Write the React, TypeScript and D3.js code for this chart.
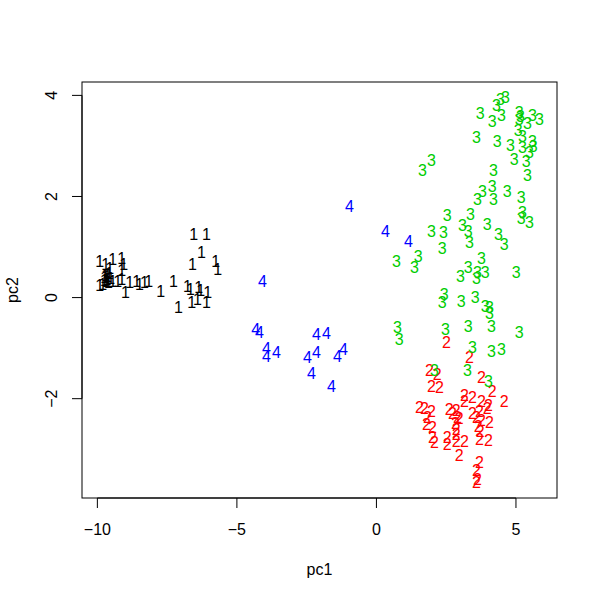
import React, { useEffect } from "react";
import * as d3 from "d3";

type P = [number, number];

const class1: P[] = [
  [-9.92, 0.71], [-9.7, 0.65], [-9.45, 0.75], [-9.13, 0.77], [-9.06, 0.65], [-9.56, 0.59],
  [-9.13, 0.55], [-9.74, 0.4], [-9.63, 0.42], [-9.67, 0.32], [-9.81, 0.26], [-9.92, 0.24],
  [-9.6, 0.3], [-9.45, 0.32], [-9.27, 0.32], [-9.13, 0.36], [-9.7, 0.45], [-9.58, 0.48],
  [-9.66, 0.36], [-9.52, 0.38], [-9.75, 0.34], [-8.99, 0.1], [-8.84, 0.3], [-8.59, 0.32],
  [-8.49, 0.26], [-8.31, 0.3], [-8.16, 0.32], [-7.73, 0.12], [-7.27, 0.32], [-7.09, -0.2],
  [-6.77, 0.22], [-6.66, 0.16], [-6.37, 0.2], [-6.3, 0.14], [-6.62, -0.1], [-6.41, -0.04],
  [-6.05, 0.1], [-6.09, -0.1], [-6.55, 1.25], [-6.09, 1.25], [-6.27, 0.89], [-6.59, 0.65],
  [-5.76, 0.71], [-5.69, 0.57],
];

const class2: P[] = [
  [3.33, -1.19], [1.9, -1.43], [2.18, -1.52], [1.97, -1.76], [2.26, -1.78], [3.76, -1.58],
  [4.15, -1.86], [4.58, -2.06], [3.15, -1.94], [3.44, -1.98], [3.15, -2.06], [3.76, -2.06],
  [4.01, -2.12], [3.97, -2.18], [1.54, -2.16], [1.72, -2.18], [1.97, -2.24], [1.83, -2.36],
  [1.79, -2.51], [2.01, -2.57], [2.61, -2.2], [2.72, -2.28], [2.86, -2.22], [2.9, -2.36],
  [2.97, -2.38], [2.83, -2.48], [2.86, -2.61], [2.86, -2.71], [3.44, -2.28], [3.69, -2.24],
  [3.58, -2.36], [3.76, -2.42], [4.05, -2.46], [3.65, -2.55], [3.72, -2.65], [2.01, -2.77],
  [2.08, -2.87], [2.54, -2.77], [2.54, -2.91], [2.86, -2.85], [3.15, -2.85], [3.69, -2.81],
  [4.01, -2.83], [2.97, -3.11], [3.69, -3.25], [3.58, -3.41], [3.62, -3.6], [3.58, -3.66],
  [2.51, -0.89],
];

const class3: P[] = [
  [4.62, 3.96], [4.44, 3.92], [4.3, 3.8], [4.48, 3.6], [4.15, 3.49], [3.72, 3.64],
  [5.12, 3.66], [5.16, 3.58], [5.12, 3.52], [5.59, 3.6], [5.84, 3.52], [5.41, 3.45],
  [5.08, 3.31], [5.23, 3.19], [3.58, 3.17], [4.33, 3.09], [4.8, 3.01], [5.59, 3.09],
  [5.62, 2.99], [5.23, 2.97], [5.48, 2.87], [4.94, 2.73], [5.37, 2.69], [1.65, 2.51],
  [1.97, 2.71], [4.19, 2.51], [5.41, 2.42], [4.15, 2.2], [3.8, 2.1], [4.69, 2.1],
  [5.19, 1.98], [3.62, 1.94], [4.19, 1.94], [2.54, 1.62], [3.37, 1.64], [5.23, 1.68],
  [5.19, 1.56], [5.48, 1.49], [1.97, 1.31], [2.4, 1.29], [3.08, 1.43], [3.29, 1.31],
  [3.97, 1.45], [4.37, 1.25], [4.58, 1.05], [3.33, 1.09], [2.36, 0.97], [0.72, 0.71],
  [1.5, 0.81], [1.36, 0.61], [3.01, 0.42], [3.29, 0.61], [3.76, 0.77], [3.62, 0.51],
  [3.9, 0.51], [3.58, 0.38], [5.01, 0.5], [2.43, 0.06], [2.36, -0.1], [3.04, -0.08],
  [3.54, 0.0], [3.9, -0.18], [4.05, -0.2], [4.05, -0.3], [0.75, -0.59], [0.82, -0.83],
  [2.47, -0.63], [3.29, -0.57], [4.12, -0.57], [5.12, -0.69], [3.44, -0.99], [4.12, -1.07],
  [4.48, -1.03], [2.08, -1.43], [3.26, -1.43], [4.01, -1.66],
];

const class4: P[] = [
  [-0.97, 1.8], [0.32, 1.31], [1.15, 1.11], [-4.08, 0.32], [-4.33, -0.63], [-4.19, -0.69],
  [-2.15, -0.73], [-1.79, -0.71], [-3.94, -1.01], [-3.94, -1.17], [-3.58, -1.09],
  [-2.15, -1.09], [-2.47, -1.19], [-1.18, -1.03], [-1.4, -1.17], [-2.33, -1.49], [-1.61, -1.76],
];

const groups: { label: string; color: string; pts: P[] }[] = [
  { label: "1", color: "#000000", pts: class1 },
  { label: "2", color: "#FF0000", pts: class2 },
  { label: "3", color: "#00CD00", pts: class3 },
  { label: "4", color: "#0000FF", pts: class4 },
];

const xTicks = [-10, -5, 0, 5];
const yTicks = [-2, 0, 2, 4];
const xTitle = "pc1";
const yTitle = "pc2";

const FONT = "'Liberation Sans', Arial, Helvetica, sans-serif";
const FS = 16;

function pad(ext: [number, number]): [number, number] {
  const r = ext[1] - ext[0];
  return [ext[0] - 0.04 * r, ext[1] + 0.04 * r];
}

export default function App() {
  useEffect(() => {
    document.body.style.margin = "0";
  }, []);

  const all = groups.flatMap((g) => g.pts);
  const left = 82, right = 557, top = 82, bottom = 498;
  const x = d3.scaleLinear().domain(pad(d3.extent(all, (d) => d[0]) as [number, number])).range([left, right]);
  const y = d3.scaleLinear().domain(pad(d3.extent(all, (d) => d[1]) as [number, number])).range([bottom, top]);

  return (
    <svg width={600} height={600} style={{ display: "block", background: "#fff" }} fontFamily={FONT}>
      <rect x={left} y={top} width={right - left} height={bottom - top} fill="none" stroke="#000" strokeWidth={1} />
      {/* x axis */}
      <line x1={x(xTicks[0])} x2={x(xTicks[xTicks.length - 1])} y1={bottom} y2={bottom} stroke="#000" />
      {xTicks.map((t) => (
        <g key={"xt" + t}>
          <line x1={x(t)} x2={x(t)} y1={bottom} y2={bottom + 10} stroke="#000" />
          <text x={x(t)} y={535} textAnchor="middle" fontSize={FS} fill="#000">
            {t < 0 ? "\u2212" + Math.abs(t) : String(t)}
          </text>
        </g>
      ))}
      {/* y axis */}
      <line x1={left} x2={left} y1={y(yTicks[0])} y2={y(yTicks[yTicks.length - 1])} stroke="#000" />
      {yTicks.map((t) => (
        <g key={"yt" + t}>
          <line x1={left} x2={left - 10} y1={y(t)} y2={y(t)} stroke="#000" />
          <text
            transform={`translate(57,${y(t)}) rotate(-90)`}
            textAnchor="middle"
            fontSize={FS}
            fill="#000"
          >
            {t < 0 ? "\u2212" + Math.abs(t) : String(t)}
          </text>
        </g>
      ))}
      <text x={(left + right) / 2} y={575} textAnchor="middle" fontSize={FS} fill="#000">
        {xTitle}
      </text>
      <text transform={`translate(18,${(top + bottom) / 2}) rotate(-90)`} textAnchor="middle" fontSize={FS} fill="#000">
        {yTitle}
      </text>
      {groups.map((g) =>
        g.pts.map((p, i) => (
          <text
            key={g.label + "-" + i}
            x={x(p[0])}
            y={y(p[1])}
            dy="0.36em"
            textAnchor="middle"
            fontSize={FS}
            fill={g.color}
          >
            {g.label}
          </text>
        ))
      )}
    </svg>
  );
}
